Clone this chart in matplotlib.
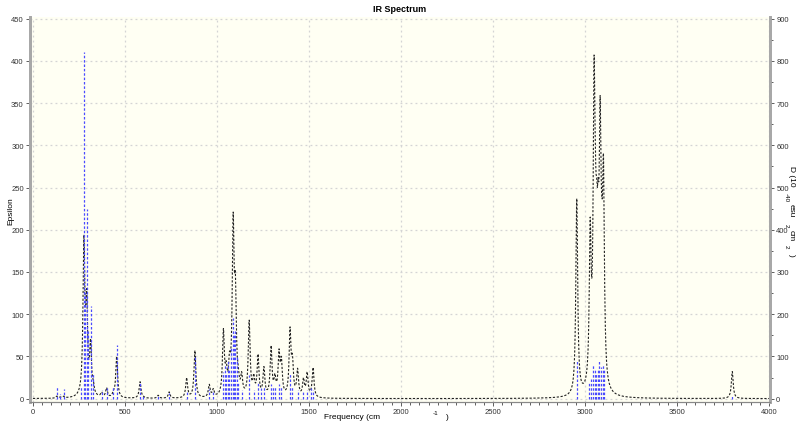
import numpy as np
from matplotlib import pyplot as plt
from matplotlib.ticker import MultipleLocator

# epsilon curve: band centres (cm-1) and peak heights
band_freq = [130, 148, 168, 262, 277, 292, 313, 328, 373, 400, 437, 455, 582, 600,
             680, 740, 835, 880, 958, 980, 1035, 1050, 1068, 1088, 1100, 1115,
             1134, 1175, 1200, 1223, 1255, 1294, 1315, 1337, 1350, 1397, 1410,
             1438, 1470, 1490, 1522, 2955, 3028, 3049, 3056, 3063, 3071, 3082,
             3091, 3100, 3800]
band_eps = [3, 2, 3, 22, 193, 130, 71, 22, 8, 13, 10, 50, 20, 3,
            4, 8, 25, 57, 17, 12, 83, 45, 56, 221, 150, 40,
            32, 93, 30, 53, 38, 63, 30, 59, 50, 85, 53,
            36, 25, 32, 37, 237, 215, 407, 300, 262, 262, 359,
            240, 290, 32]

# stick spectrum: frequency (cm-1) and dipole strength D
stick_freq = [130, 148, 168, 262, 277, 283, 292, 300, 313, 325, 373, 400, 437, 455,
              582, 600, 680, 740, 835, 880, 958, 980, 1035, 1042, 1050, 1058,
              1068, 1078, 1088, 1095, 1100, 1108, 1115, 1134, 1175, 1200, 1223,
              1240, 1255, 1294, 1305, 1315, 1337, 1350, 1397, 1410, 1438, 1470,
              1490, 1510, 1522, 2955, 3022, 3035, 3045, 3052, 3060, 3068, 3078,
              3085, 3095, 3103, 3800]
stick_d = [28, 10, 22, 30, 820, 250, 450, 160, 220, 60, 20, 24, 30, 126,
           38, 6, 6, 14, 16, 100, 22, 16, 64, 80, 60, 90,
           70, 120, 190, 150, 160, 100, 40, 20, 55, 20, 40,
           25, 30, 35, 30, 30, 35, 30, 60, 30, 20, 15,
           20, 25, 20, 90, 40, 50, 83, 70, 60, 70, 90,
           75, 80, 70, 8]

hwhm = 6.0


def lorentz(x, x0):
    return hwhm ** 2 / ((x - x0) ** 2 + hwhm ** 2)


f = np.array(band_freq, dtype=float)
# broaden so the curve passes through the read peak heights
amps = np.linalg.solve(lorentz(f[:, None], f[None, :]), np.array(band_eps, float))
amps = np.clip(amps, 0, None)
wn = np.arange(0, 4001, 1.0)
epsilon = lorentz(wn[:, None], f[None, :]) @ amps

fig = plt.figure(figsize=(8, 4.27), dpi=100)
ax = fig.add_axes([0.0375, 0.0562, 0.925, 0.9016])
ax.set_facecolor('#fffff3')
ax2 = ax.twinx()

ax.plot(wn, epsilon, color='#222222', lw=0.8, linestyle=(0, (2, 1.5)), zorder=3)
ax2.vlines(stick_freq, 0, stick_d, colors='#4a4aff', lw=0.9, linestyles=(0, (2, 1.5)))

ax.set_xlim(-16, 4005)
ax.set_ylim(-4, 452)
ax2.set_ylim(-8, 904)

ax.xaxis.set_major_locator(MultipleLocator(500))
ax.xaxis.set_minor_locator(MultipleLocator(50))
ax.yaxis.set_major_locator(MultipleLocator(50))
ax2.yaxis.set_major_locator(MultipleLocator(100))
ax2.yaxis.set_minor_locator(MultipleLocator(50))

ax.grid(True, which='major', color='#d4d4d4', linestyle=(0, (1.5, 2.5)), lw=0.9)
ax.set_axisbelow(True)

for a in (ax, ax2):
    a.spines['top'].set_visible(False)
    a.spines['left'].set_color('#a8a8a8')
    a.spines['right'].set_color('#a8a8a8')
    a.spines['left'].set_linewidth(2)
    a.spines['right'].set_linewidth(2)
    a.spines['bottom'].set_color('#888888')
    a.tick_params(which='both', labelsize=5.5, colors='#444444', labelcolor='#333333',
                  direction='out', width=0.6, pad=1.5)
    a.tick_params(which='major', length=3)
    a.tick_params(which='minor', length=1.8)
    for lbl in a.get_xticklabels() + a.get_yticklabels():
        lbl.set_family('Liberation Sans')

fig.text(0.5, 0.978, 'IR Spectrum', ha='center', va='center', fontsize=6.5,
         fontweight='bold', family='Liberation Sans')
fig.text(0.013, 0.505, 'Epsilon', ha='center', va='center', rotation=90,
         fontsize=6, family='Liberation Sans')

# x label, spaced like the original
fig.text(352 / 800, 1 - 418 / 427, 'Frequency (cm', ha='center', va='center',
         fontsize=6, family='Liberation Sans')
fig.text(436 / 800, 1 - 414 / 427, '-1', ha='center', va='center',
         fontsize=4.5, family='Liberation Sans')
fig.text(447 / 800, 1 - 418 / 427, ')', ha='center', va='center',
         fontsize=6, family='Liberation Sans')

# right label pieces
right_parts = [('D (10', 791, 176, 6), ('-40', 786, 198, 4.5), ('esu', 791, 211, 6),
               ('2', 786, 226, 4.5), ('cm', 791, 236, 6), ('2', 786, 247, 4.5),
               (')', 791, 255, 6)]
for txt, px, py, fs in right_parts:
    fig.text(px / 800, 1 - py / 427, txt, ha='center', va='center', rotation=270,
             fontsize=fs, family='Liberation Sans')

fig.savefig('out.png', dpi=100)
